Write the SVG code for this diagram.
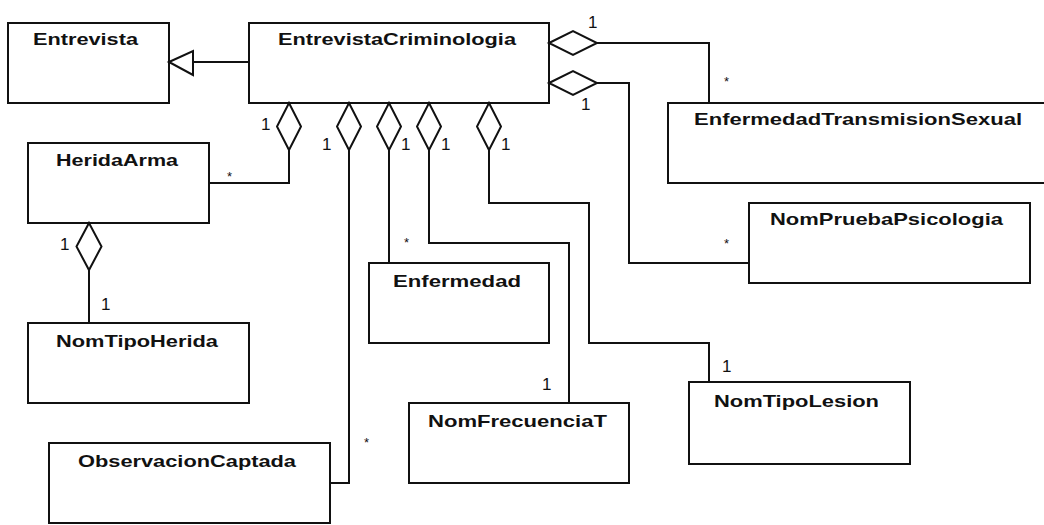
<svg xmlns="http://www.w3.org/2000/svg" width="1044" height="525" viewBox="0 0 1044 525">
<style>
.box{fill:#fff;stroke:#111;stroke-width:2}
.title{font-family:"Liberation Sans",Arial,sans-serif;font-weight:bold;font-size:17px;fill:#111;text-anchor:middle}
.edge{fill:none;stroke:#111;stroke-width:2}
.dia{fill:#fff;stroke:#111;stroke-width:2}
.m{font-family:"Liberation Sans",Arial,sans-serif;font-size:17px;fill:#111}
.s{font-family:"Liberation Sans",Arial,sans-serif;font-size:13px;fill:#111}
</style>
<rect width="1044" height="525" fill="#fff"/>
<g id="Entrevista"><rect class="box" x="8" y="23" width="161" height="80"/><text class="title" x="85.5" y="45" textLength="105" lengthAdjust="spacingAndGlyphs">Entrevista</text></g>
<g id="EntrevistaCriminologia"><rect class="box" x="249" y="23" width="300" height="80"/><text class="title" x="397" y="45" textLength="238" lengthAdjust="spacingAndGlyphs">EntrevistaCriminologia</text></g>
<g id="EnfermedadTransmisionSexual"><rect class="box" x="668" y="103" width="390" height="80"/><text class="title" x="858" y="125" textLength="328" lengthAdjust="spacingAndGlyphs">EnfermedadTransmisionSexual</text></g>
<g id="HeridaArma"><rect class="box" x="28" y="143" width="181" height="80"/><text class="title" x="117" y="166" textLength="122" lengthAdjust="spacingAndGlyphs">HeridaArma</text></g>
<g id="NomPruebaPsicologia"><rect class="box" x="749" y="203" width="281" height="80"/><text class="title" x="886.5" y="225" textLength="233" lengthAdjust="spacingAndGlyphs">NomPruebaPsicologia</text></g>
<g id="Enfermedad"><rect class="box" x="369" y="263" width="180" height="80"/><text class="title" x="457" y="287" textLength="128" lengthAdjust="spacingAndGlyphs">Enfermedad</text></g>
<g id="NomTipoHerida"><rect class="box" x="28" y="323" width="221" height="80"/><text class="title" x="137" y="347" textLength="162" lengthAdjust="spacingAndGlyphs">NomTipoHerida</text></g>
<g id="NomTipoLesion"><rect class="box" x="689" y="382" width="221" height="82"/><text class="title" x="796.5" y="407" textLength="165" lengthAdjust="spacingAndGlyphs">NomTipoLesion</text></g>
<g id="NomFrecuenciaT"><rect class="box" x="409" y="403" width="220" height="80"/><text class="title" x="517.5" y="427" textLength="179" lengthAdjust="spacingAndGlyphs">NomFrecuenciaT</text></g>
<g id="ObservacionCaptada"><rect class="box" x="49" y="443" width="281" height="80"/><text class="title" x="187" y="467" textLength="218" lengthAdjust="spacingAndGlyphs">ObservacionCaptada</text></g>
<g id="connectors">
<path class="edge" d="M193 62H249"/>
<polygon class="dia" points="169,62 193,51 193,75"/>
<path class="edge" d="M597 43H709V103"/>
<path class="edge" d="M597 83H629V263H749"/>
<path class="edge" d="M289 150V183H209"/>
<path class="edge" d="M349 150V483H330"/>
<path class="edge" d="M389 150V263"/>
<path class="edge" d="M429 150V243H569V403"/>
<path class="edge" d="M489 150V203H589V343H709V382"/>
<path class="edge" d="M89 270V323"/>
<polygon class="dia" points="549,43 573,31 597,43 573,55"/>
<polygon class="dia" points="549,83 573,71 597,83 573,95"/>
<polygon class="dia" points="289,103 301,126.5 289,150 277,126.5"/>
<polygon class="dia" points="349,103 361,126.5 349,150 337,126.5"/>
<polygon class="dia" points="389,103 401,126.5 389,150 377,126.5"/>
<polygon class="dia" points="429,103 441,126.5 429,150 417,126.5"/>
<polygon class="dia" points="489,103 501,126.5 489,150 477,126.5"/>
<polygon class="dia" points="89,223 101.5,246.5 89,270 76.5,246.5"/>
<text class="m" x="588" y="28">1</text>
<text class="m" x="581" y="110">1</text>
<text class="s" x="724" y="86">*</text>
<text class="s" x="724" y="248">*</text>
<text class="m" x="261" y="130">1</text>
<text class="s" x="227" y="181">*</text>
<text class="m" x="322" y="150">1</text>
<text class="m" x="401" y="150">1</text>
<text class="m" x="441" y="150">1</text>
<text class="m" x="501" y="150">1</text>
<text class="s" x="404" y="247">*</text>
<text class="m" x="542" y="390">1</text>
<text class="m" x="722" y="372">1</text>
<text class="s" x="364" y="447">*</text>
<text class="m" x="60" y="250">1</text>
<text class="m" x="101" y="310">1</text>
</g>
</svg>
